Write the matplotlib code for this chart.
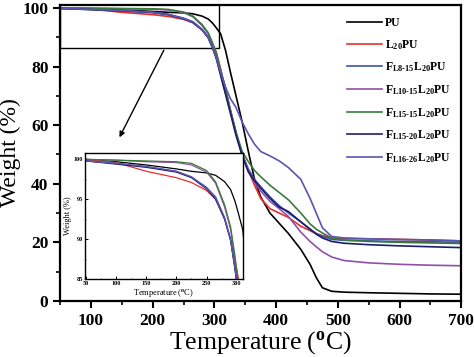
import matplotlib
matplotlib.use('Agg')
from matplotlib import pyplot as plt
from matplotlib.patches import Rectangle
from matplotlib.ticker import MultipleLocator

# Temperature grid (C) and weight (%) of each sample.
temps = [50, 100, 150, 200, 225, 250, 265, 280, 290, 297, 303, 310, 318, 326, 335,
         345, 355, 365, 375, 390, 405, 420, 440, 455, 465, 475, 490, 510, 550, 600,
         650, 700]

pu = [100, 99.7, 99.3, 98.8, 98.5, 98.3, 98.0, 97.2, 96.2, 94.8, 93.2, 91.2, 85.5, 78,
      70, 61, 51, 41.5, 35.5, 30, 26.5, 23, 17.6, 12.5, 8, 4.5, 3.3, 3.0, 2.8, 2.6,
      2.4, 2.3]
l20 = [100, 99.6, 98.5, 97.7, 97.1, 96.1, 95, 92.5, 90, 87.5, 85, 79, 72, 65, 57.5,
       50, 44.5, 39.5, 35, 31.5, 30, 28.5, 25.5, 24, 23, 22.3, 21.5, 21.3, 21.2, 21,
       20.8, 20.5]
f8_15 = [99.8, 99.5, 99.1, 98.5, 97.8, 96.5, 95.3, 92.7, 90, 86.5, 83, 77.5, 71, 64.5,
         57, 50, 45, 41.5, 39, 35.5, 32.5, 30, 27, 24.5, 23, 22, 21, 20.7, 20.5, 20.3,
         20.2, 20]
f10_15 = [100, 99.9, 99.7, 99.6, 99.3, 98.4, 97, 94, 91.2, 87.5, 84, 78.5, 72, 65,
          57.5, 50, 44.5, 40.5, 37.5, 34, 31.5, 28.8, 23.5, 20.3, 18.5, 16.8, 15, 13.8,
          13, 12.5, 12.2, 12]
f15_15 = [100, 99.9, 99.8, 99.7, 99.5, 98.6, 97.2, 94.3, 91.5, 88, 84.5, 79, 72.5, 65,
          57.5, 51, 47.5, 44.5, 42.4, 39.5, 37, 34.5, 30, 26.3, 24.5, 23.2, 21.5, 20.8,
          20.3, 20, 19.8, 19.6]
f15_20 = [99.8, 99.4, 99.0, 98.4, 97.7, 96.3, 95, 92.5, 89.8, 86.3, 82.8, 77, 70.5, 64,
          56.5, 49.5, 44, 41, 38.5, 35, 32, 30.5, 27, 24.5, 22.8, 21.5, 20.3, 19.7,
          19.2, 18.8, 18.5, 18.2]
f16_26 = [99.8, 99.5, 99.1, 98.5, 97.8, 96.4, 95.2, 92.6, 89.8, 86.5, 83, 78, 73, 69,
          66, 61, 57, 53.5, 51, 49.5, 47.8, 45.5, 41.5, 35, 30, 25, 22, 21.5, 21.2, 21,
          20.8, 20.5]

labels = ['PU', 'L$_{20}$PU', 'F$_{L8\\text{-}15}$L$_{20}$PU',
          'F$_{L10\\text{-}15}$L$_{20}$PU', 'F$_{L15\\text{-}15}$L$_{20}$PU',
          'F$_{L15\\text{-}20}$L$_{20}$PU', 'F$_{L16\\text{-}26}$L$_{20}$PU']
colors = ['black', '#e8302a', '#3a55a8', '#9050a8', '#3a7a3a', '#1c1c6e', '#5a55b0']
series = [pu, l20, f8_15, f10_15, f15_15, f15_20, f16_26]


def main():
    plt.rcParams['font.family'] = 'Liberation Serif'
    plt.rcParams['font.weight'] = 'bold'
    plt.rcParams['mathtext.fontset'] = 'custom'
    plt.rcParams['mathtext.rm'] = 'Liberation Serif:bold'
    plt.rcParams['mathtext.it'] = 'Liberation Serif:bold'
    plt.rcParams['mathtext.bf'] = 'Liberation Serif:bold'

    fig = plt.figure(figsize=(4.74, 3.57), dpi=100)
    ax = fig.add_axes([0.127, 0.157, 0.846, 0.829])

    for w, c, lab in zip(series, colors, labels):
        ax.plot(temps, w, color=c, lw=1.2, label=lab)

    ax.set_xlim(50, 700)
    ax.set_ylim(0, 101)
    ax.xaxis.set_major_locator(MultipleLocator(100))
    ax.xaxis.set_minor_locator(MultipleLocator(50))
    ax.yaxis.set_major_locator(MultipleLocator(20))
    ax.yaxis.set_minor_locator(MultipleLocator(10))
    ax.tick_params(axis='both', which='major', direction='out', length=5, width=1.5,
                   labelsize=12.5)
    ax.tick_params(axis='both', which='minor', direction='out', length=3, width=1.2)
    for s in ax.spines.values():
        s.set_linewidth(1.6)
    ax.set_xlabel('Temperature ($^{\\mathrm{o}}$C)', fontsize=18.5, labelpad=0)
    ax.set_ylabel('Weight (%)', fontsize=17, labelpad=1)

    # Zoom box and arrow towards the inset.
    ax.add_patch(Rectangle((50, 86.4), 257, 15, fill=False, lw=1, color='black'))
    ax.annotate('', xy=(144, 55), xytext=(220, 86.4),
                arrowprops=dict(arrowstyle='-|>', color='black', lw=1,
                                mutation_scale=8))

    ax.legend(loc='upper right', frameon=False, fontsize=8.5, handlelength=3,
              handletextpad=0.2, labelspacing=0.75, bbox_to_anchor=(1.0, 0.995))

    # Inset.
    axi = fig.add_axes([0.179, 0.2185, 0.333, 0.353])
    for w, c in zip(series, colors):
        axi.plot(temps, w, color=c, lw=0.9)
    axi.set_xlim(48, 310)
    axi.set_ylim(85, 100.8)
    axi.set_xticks([50, 100, 150, 200, 250, 300])
    axi.set_yticks([85, 90, 95, 100])
    axi.xaxis.set_minor_locator(MultipleLocator(25))
    axi.yaxis.set_minor_locator(MultipleLocator(2.5))
    axi.tick_params(axis='both', which='major', direction='in', length=2, width=0.7,
                    labelsize=4.5, pad=1.5)
    axi.tick_params(axis='both', which='minor', direction='in', length=1, width=0.5)
    for s in axi.spines.values():
        s.set_linewidth(1.0)
    axi.set_xlabel('Temperature ($^{\\mathrm{o}}$C)', fontsize=6, labelpad=1)
    axi.set_ylabel('Weight (%)', fontsize=6, labelpad=1)

    plt.savefig('out.png', dpi=100)


if __name__ == '__main__':
    main()
